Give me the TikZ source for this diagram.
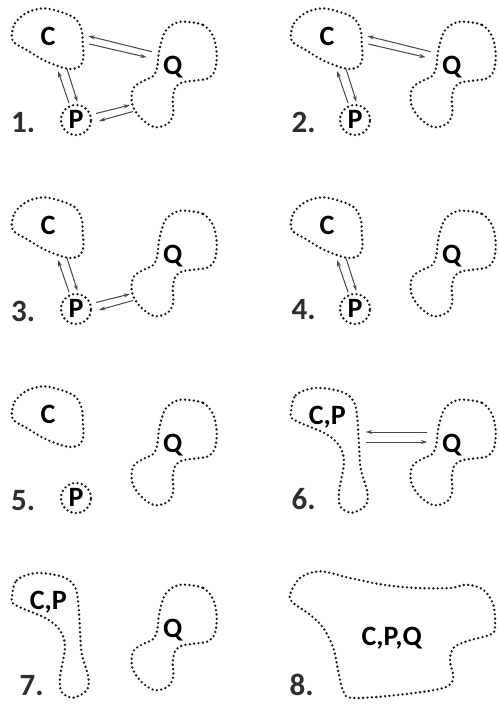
\documentclass[tikz,border=0pt]{standalone}
\usepackage{fontspec}
\newfontfamily\labfont{Carlito}
\usetikzlibrary{arrows.meta}
\tikzset{
  dotline/.style={draw=black!90, line width=2.6pt, line cap=round, dash pattern=on 0pt off 4.4pt},
  lbl/.style={font=\labfont\bfseries\fontsize{28}{28}\selectfont, anchor=base, inner sep=0pt, text=black},
  num/.style={font=\labfont\bfseries\fontsize{31}{31}\selectfont, anchor=base west, inner sep=0pt, text=black!82},
  arr/.style={draw=black!72, line width=1pt, -{Stealth[length=6.5pt,width=4pt]}},
}
\newcommand\drawC[1]{%
  \draw[dotline] plot[smooth cycle, tension=0.55] coordinates {(11.7,36.7) (15,23.3) (26.7,12.7) (43.3,8.3) (60,11.7) (75,18.3) (81.7,30) (82.7,43.3) (83.3,58.3) (79.3,66.7) (70,69) (60,66.7) (43.3,60) (26.7,50) (15,43.3)};
  \node[lbl] (C#1) at (48,45.5) {C};}
\newcommand\drawQ[1]{%
  \draw[dotline] plot[smooth cycle, tension=0.55] coordinates {(185,21.7) (203.3,25) (213.3,36.7) (216.7,53.3) (215,70) (208.3,78.3) (193.3,80.7) (181.7,82.7) (175,88.3) (172.7,100) (173.3,113.3) (168.3,123.3) (156.7,127.3) (146.7,123.3) (136.7,113.3) (131.7,101.7) (133.3,88.3) (141.7,81.7) (153.3,76) (157.3,66.7) (159.3,50) (165,31.7) (175,23.3)};
  \node[lbl] (Q#1) at (172.7,74.5) {Q};}
\newcommand\drawP[1]{%
  \draw[dotline] (76,120) circle[radius=15pt];
  \node[lbl] (P#1) at (76,128.8) {P};}
\newcommand\drawCP[1]{%
  \draw[dotline] plot[smooth cycle, tension=0.55] coordinates {(11.7,35.7) (16.7,17.3) (36.7,10) (63.3,14) (75,24) (78.3,40.7) (80,67.3) (81.7,90.7) (88.3,114) (86.7,127.3) (73.3,134.7) (61.7,129) (60,114) (65,84) (60,67.3) (46.7,55.7) (23.3,45.7) (13.3,40.7)};
  \node[lbl] (CP#1) at (48.3,46) {C,P};}
\newcommand\arrCQ[1]{%
  \coordinate (cqa#1) at (151.7,51.7); \coordinate (cqb#1) at (88.3,36);
  \coordinate (cqc#1) at (89.3,44); \coordinate (cqd#1) at (146.7,57.3);
  \draw[arr] (cqa#1) -- (cqb#1);
  \draw[arr] (cqc#1) -- (cqd#1);}
\newcommand\arrCP[1]{%
  \coordinate (cpa#1) at (69,103); \coordinate (cpb#1) at (58,71);
  \coordinate (cpc#1) at (67,69); \coordinate (cpd#1) at (77.5,102);
  \draw[arr] (cpa#1) -- (cpb#1);
  \draw[arr] (cpc#1) -- (cpd#1);}
\newcommand\arrPQ[1]{%
  \coordinate (pqa#1) at (96,113.5); \coordinate (pqb#1) at (130,105);
  \coordinate (pqc#1) at (133,111.5); \coordinate (pqd#1) at (99,121);
  \draw[arr] (pqa#1) -- (pqb#1);
  \draw[arr] (pqc#1) -- (pqd#1);}
\begin{document}
\begin{tikzpicture}[x=1pt,y=-1pt]
\fill[white] (0,0) rectangle (498,706);
\useasboundingbox (0,0) rectangle (498,706);
% panel 1
\begin{scope}[shift={(0,0)}]
  \drawC{1}\drawQ{1}\drawP{1}\arrCQ{1}\arrCP{1}\arrPQ{1}
  \node[num] (n1) at (11,132) {1.};
\end{scope}
% panel 2
\begin{scope}[shift={(279,0)}]
  \drawC{2}\drawQ{2}\drawP{2}\arrCQ{2}\arrCP{2}
  \node[num] (n2) at (12.5,132) {2.};
\end{scope}
% panel 3
\begin{scope}[shift={(0,189)}]
  \drawC{3}\drawQ{3}\drawP{3}\arrCP{3}\arrPQ{3}
  \node[num] (n3) at (11,132) {3.};
\end{scope}
% panel 4
\begin{scope}[shift={(279,189)}]
  \drawC{4}\drawQ{4}\drawP{4}\arrCP{4}
  \node[num] (n4) at (12.5,130.5) {4.};
\end{scope}
% panel 5
\begin{scope}[shift={(0,378)}]
  \drawC{5}\drawQ{5}\drawP{5}
  \node[num] (n5) at (11,132) {5.};
\end{scope}
% panel 6
\begin{scope}[shift={(279,378)}]
  \drawCP{6}\drawQ{6}
  \coordinate (a6) at (148.3,54); \coordinate (b6) at (86.7,54);
  \coordinate (c6) at (86.7,64); \coordinate (d6) at (148.3,64);
  \draw[arr] (a6) -- (b6);
  \draw[arr] (c6) -- (d6);
  \node[num] (n6) at (12.5,131) {6.};
\end{scope}
% panel 7
\begin{scope}[shift={(0,563)}]
  \drawCP{7}\drawQ{7}
  \node[num] (n7) at (19.5,132) {7.};
\end{scope}
% panel 8
\begin{scope}[shift={(279,563)}]
  \draw[dotline] plot[smooth cycle, tension=0.55] coordinates {(11,31.7) (21,15) (41,8.3) (71,15) (104.3,21.7) (137.7,25) (171,25) (187.7,21.7) (204.3,26.7) (214.3,41.7) (216,65) (211,71.7) (187.7,78.3) (174.3,85) (171,98.3) (174.3,115) (164.3,125) (121,131.7) (74.3,135) (64.3,128.3) (59.3,108.3) (54.3,85) (44.3,65) (31,51.7) (14.3,40)};
  \node[lbl] (CPQ8) at (112.7,82.8) {C,P,Q};
  \node[num] (n8) at (10.5,132) {8.};
\end{scope}
\end{tikzpicture}
\end{document}
